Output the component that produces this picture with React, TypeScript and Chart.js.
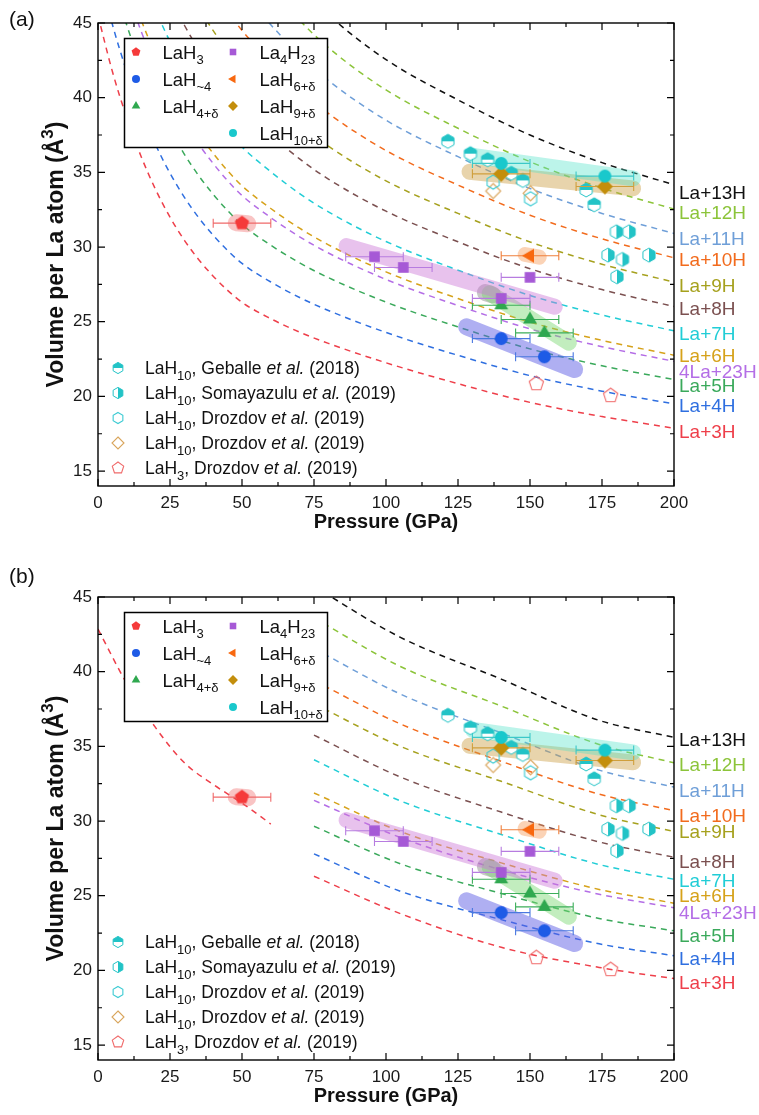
import React, { useEffect, useRef } from "react";
import { Chart, registerables } from "chart.js";

Chart.register(...registerables);

const FONT = '"Liberation Sans", Arial, Helvetica, sans-serif';

// ---------------- axes ----------------
const X_TICKS = [0, 25, 50, 75, 100, 125, 150, 175, 200];
const Y_TICKS = [15, 20, 25, 30, 35, 40, 45];

// ---------------- reference curves, panel (a) ----------------
const P_A = [0, 5, 10, 15, 20, 25, 30, 35, 40, 45, 50, 60, 70, 80, 100, 125, 150, 175, 200];
const A_13H = [null, null, null, null, null, null, null, null, null, null, null, null, 47.5, 45.55, 42.55, 39.85, 37.5, 35.65, 34.17];
const A_12H = [null, null, null, null, null, null, null, null, null, null, null, 47.34, 45.18, 43.35, 40.52, 37.95, 35.71, 33.95, 32.54];
const A_11H = [null, null, null, null, null, null, null, null, null, 48.46, 47.1, 44.88, 42.86, 41.15, 38.49, 36.05, 33.92, 32.25, 30.91];
const A_10H = [null, null, null, null, null, null, null, null, 47.23, 45.79, 44.5, 42.42, 40.54, 38.95, 36.46, 34.15, 32.13, 30.55, 29.28];
const A_9H = [null, null, null, null, null, null, 47.73, 46.01, 44.49, 43.12, 41.9, 39.96, 38.22, 36.75, 34.43, 32.25, 30.34, 28.85, 27.65];
const A_8H = [null, null, null, null, 48.85, 46.7, 44.85, 43.2, 41.75, 40.45, 39.3, 37.5, 35.9, 34.55, 32.4, 30.35, 28.55, 27.15, 26.02];
const A_7H = [null, null, null, 48.25, 45.85, 43.76, 41.97, 40.39, 39.01, 37.78, 36.7, 35.04, 33.58, 32.35, 30.37, 28.45, 26.76, 25.45, 24.39];
const A_6H = [null, null, 47.95, 45.2, 42.85, 40.82, 39.09, 37.58, 36.27, 35.11, 34.1, 32.58, 31.26, 30.15, 28.34, 26.55, 24.97, 23.75, 22.76];
const A_4LA23H = [null, null, 47.18, 44.44, 42.1, 40.09, 38.37, 36.88, 35.59, 34.44, 33.45, 31.97, 30.68, 29.6, 27.83, 26.08, 24.52, 23.33, 22.35];
const A_5H = [null, 48.05, 44.85, 42.15, 39.85, 37.88, 36.21, 34.77, 33.53, 32.44, 31.5, 30.12, 28.94, 27.95, 26.31, 24.65, 23.18, 22.05, 21.13];
const A_4H = [48.7, 44.9, 41.75, 39.1, 36.85, 34.94, 33.33, 31.96, 30.79, 29.77, 28.9, 27.66, 26.62, 25.75, 24.28, 22.75, 21.39, 20.35, 19.5];
const A_3H = [45.5, 41.75, 38.65, 36.05, 33.85, 32.0, 30.45, 29.15, 28.05, 27.1, 26.3, 25.2, 24.3, 23.55, 22.25, 20.85, 19.6, 18.65, 17.87];

// ---------------- reference curves, panel (b) ----------------
const P_B = [75, 105, 140, 174, 200];
const B_13H = [45.7, 42.3, 39.5, 36.74, 35.6];
const B_12H = [43.6, 40.35, 37.7, 35.13, 33.9];
const B_11H = [41.55, 38.5, 35.9, 33.41, 32.27];
const B_10H = [39.4, 36.5, 34.0, 31.8, 30.7];
const B_9H = [37.85, 35.0, 32.66, 30.42, 29.3];
const B_8H = [35.75, 32.95, 30.6, 28.6, 27.58];
const B_7H = [34.1, 31.35, 29.1, 27.09, 26.1];
const B_6H = [31.88, 29.3, 27.2, 25.42, 24.5];
const B_4LA23H = [31.38, 28.9, 26.73, 25.1, 24.2];
const B_5H = [29.65, 27.14, 25.15, 23.48, 22.65];
const B_4H = [27.8, 25.3, 23.4, 21.78, 20.98];
const B_3H = [26.3, 23.8, 21.55, 20.2, 19.45];
const P_B_LAH3 = [0, 10, 20, 30, 40, 50, 60];
const B_LAH3 = [42.85, 39.2, 36.25, 33.9, 32.45, 31.2, 29.8];

const CURVE_NAMES = ["La+13H", "La+12H", "La+11H", "La+10H", "La+9H", "La+8H", "La+7H", "La+6H", "4La+23H", "La+5H", "La+4H", "La+3H"];
const CURVE_COLORS = ["#111111", "#8cc43a", "#6f9fd8", "#f26b1d", "#a6a11e", "#7b5050", "#21cdd6", "#d6a21a", "#b46ee6", "#3aa95b", "#2f6fe0", "#ee3f4a"];
const CURVES_A = [A_13H, A_12H, A_11H, A_10H, A_9H, A_8H, A_7H, A_6H, A_4LA23H, A_5H, A_4H, A_3H];
const CURVES_B = [B_13H, B_12H, B_11H, B_10H, B_9H, B_8H, B_7H, B_6H, B_4LA23H, B_5H, B_4H, B_3H];
const LABEL_V_A = [33.7, 32.36, 30.62, 29.17, 27.45, 25.89, 24.26, 22.76, 21.71, 20.75, 19.41, 17.69];
const LABEL_V_B = [35.47, 33.79, 32.05, 30.38, 29.33, 27.32, 26.02, 25.02, 23.9, 22.34, 20.82, 19.21];

// ---------------- data points ----------------
const LAH3_P = [50];
const LAH3_V = [31.6];
const LAH3_ERR = [10];
const LAH4_P = [140, 155];
const LAH4_V = [23.87, 22.65];
const LAH4_ERR = [10, 10];
const LAH4D_P = [140, 150, 155];
const LAH4D_V = [26.1, 25.15, 24.25];
const LAH4D_ERR = [10, 10, 10];
const LA4H23_P = [96, 106, 140, 150];
const LA4H23_V = [29.35, 28.63, 26.56, 27.97];
const LA4H23_ERR = [10, 10, 10, 10];
const LAH6_P = [150];
const LAH6_V = [29.42];
const LAH6_ERR = [10];
const LAH9_P = [140, 176];
const LAH9_V = [34.9, 34.05];
const LAH9_ERR = [10, 10];
const LAH10_P = [140, 176];
const LAH10_V = [35.6, 34.75];
const LAH10_ERR = [10, 10];

const GEBALLE_P = [121.5, 129.3, 135.3, 143.5, 147.5, 169.5, 172.3];
const GEBALLE_V = [37.08, 36.25, 35.85, 34.94, 34.46, 33.82, 32.83];
const SOMA_P = [180, 184.4, 177.1, 182.1, 191.3, 180.2];
const SOMA_V = [31.02, 31.02, 29.46, 29.17, 29.46, 28.01];
const DROZ_HEX_P = [137.2, 150.2];
const DROZ_HEX_V = [34.35, 33.23];
const DROZ_DIA_P = [137.2, 150.2];
const DROZ_DIA_V = [33.75, 33.6];
const DROZ_LAH3_P = [152.2, 178];
const DROZ_LAH3_V = [20.85, 20.05];

// shaded guide bands (end points)
const BAND_TEAL = [[130.2, 36.1], [185.8, 34.6]];
const BAND_GOLD = [[129, 35.04], [185.8, 33.93]];
const BAND_PURPLE = [[86.3, 30.06], [158.6, 26.0]];
const BAND_GREEN = [[136, 26.9], [163.5, 23.6]];
const BAND_BLUE = [[128, 24.66], [165.5, 21.8]];
const BAND_GRAY = [[134.5, 26.95], [137, 26.8]];
const BLOB_RED = [[48, 31.62], [52, 31.56]];
const BLOB_ORANGE = [[148.3, 29.5], [153.2, 29.32]];

type Style = { shape: string; r: number; color: string; fill: string; lw?: number };

const ST_LAH3: Style = { shape: "pentagon", r: 7.5, color: "#f53a3a", fill: "full" };
const ST_LAH4: Style = { shape: "circle", r: 6.5, color: "#1e5be6", fill: "full" };
const ST_LAH4D: Style = { shape: "triangle", r: 8, color: "#2fa84f", fill: "full" };
const ST_LA4H23: Style = { shape: "square", r: 7.5, color: "#a659d6", fill: "full" };
const ST_LAH6: Style = { shape: "triangleLeft", r: 8, color: "#f8680f", fill: "full" };
const ST_LAH9: Style = { shape: "diamond", r: 8, color: "#c38e0c", fill: "full" };
const ST_LAH10: Style = { shape: "circle", r: 6.5, color: "#19c8cc", fill: "full" };
const ST_GEB: Style = { shape: "hexagon", r: 7, color: "#22c3c6", fill: "top", lw: 1 };
const ST_SOMA: Style = { shape: "hexagon", r: 7, color: "#22c3c6", fill: "right", lw: 1 };
const ST_DHEX: Style = { shape: "hexagon", r: 7, color: "#3ccbd3", fill: "none", lw: 1.1 };
const ST_DDIA: Style = { shape: "diamond", r: 7.5, color: "#d9a55c", fill: "none", lw: 1.1 };
const ST_DPEN: Style = { shape: "pentagon", r: 7.5, color: "#f06a6a", fill: "none", lw: 1.1 };

const TOP_LEGEND: [Style, string][] = [
  [ST_LAH3, "LaH_{3}"],
  [ST_LAH4, "LaH_{~4}"],
  [ST_LAH4D, "LaH_{4+δ}"],
  [ST_LA4H23, "La_{4}H_{23}"],
  [ST_LAH6, "LaH_{6+δ}"],
  [ST_LAH9, "LaH_{9+δ}"],
  [ST_LAH10, "LaH_{10+δ}"],
];
const BOTTOM_LEGEND: [Style, string][] = [
  [ST_GEB, "LaH_{10}, Geballe *et al.* (2018)"],
  [ST_SOMA, "LaH_{10}, Somayazulu *et al.* (2019)"],
  [ST_DHEX, "LaH_{10}, Drozdov *et al.* (2019)"],
  [ST_DDIA, "LaH_{10}, Drozdov *et al.* (2019)"],
  [ST_DPEN, "LaH_{3}, Drozdov *et al.* (2019)"],
];

function shapePath(ctx: CanvasRenderingContext2D, shape: string, x: number, y: number, r: number) {
  ctx.beginPath();
  if (shape === "circle") {
    ctx.arc(x, y, r, 0, Math.PI * 2);
    return;
  }
  let n = 4;
  let rot = 0;
  if (shape === "triangle") { n = 3; rot = -Math.PI / 2; }
  else if (shape === "triangleLeft") { n = 3; rot = Math.PI; }
  else if (shape === "square") { n = 4; rot = Math.PI / 4; }
  else if (shape === "diamond") { n = 4; rot = -Math.PI / 2; }
  else if (shape === "pentagon") { n = 5; rot = -Math.PI / 2; }
  else if (shape === "hexagon") { n = 6; rot = -Math.PI / 2; }
  for (let i = 0; i < n; i++) {
    const a = rot + (i * 2 * Math.PI) / n;
    const px = x + r * Math.cos(a);
    const py = y + r * Math.sin(a);
    if (i === 0) ctx.moveTo(px, py);
    else ctx.lineTo(px, py);
  }
  ctx.closePath();
}

function drawShape(ctx: CanvasRenderingContext2D, st: Style, x: number, y: number, r: number) {
  ctx.save();
  shapePath(ctx, st.shape, x, y, r);
  if (st.fill === "full") {
    ctx.fillStyle = st.color;
    ctx.fill();
  } else if (st.fill === "top" || st.fill === "right") {
    ctx.fillStyle = "#ffffff";
    ctx.fill();
    ctx.save();
    ctx.clip();
    ctx.fillStyle = st.color;
    if (st.fill === "top") ctx.fillRect(x - r - 2, y - r - 2, 2 * r + 4, r + 2);
    else ctx.fillRect(x, y - r - 2, r + 2, 2 * r + 4);
    ctx.restore();
    shapePath(ctx, st.shape, x, y, r);
  }
  if (st.fill !== "full") {
    ctx.strokeStyle = st.color;
    ctx.lineWidth = st.lw ?? 1.1;
    ctx.stroke();
  }
  ctx.restore();
}

function markerCanvas(st: Style): HTMLCanvasElement {
  const s = Math.ceil(st.r * 2 + 4);
  const c = document.createElement("canvas");
  c.width = s;
  c.height = s;
  const ctx = c.getContext("2d")!;
  drawShape(ctx, st, s / 2, s / 2, st.r);
  return c;
}

type Seg = { t: string; mode: string; it: boolean };
function parseRich(s: string): Seg[] {
  const segs: Seg[] = [];
  let buf = "";
  let it = false;
  let i = 0;
  const flush = () => {
    if (buf) segs.push({ t: buf, mode: "n", it });
    buf = "";
  };
  while (i < s.length) {
    const c = s[i];
    if ((c === "_" || c === "^") && s[i + 1] === "{") {
      flush();
      const j = s.indexOf("}", i);
      segs.push({ t: s.slice(i + 2, j), mode: c === "_" ? "sub" : "sup", it });
      i = j + 1;
      continue;
    }
    if (c === "*") {
      flush();
      it = !it;
      i++;
      continue;
    }
    buf += c;
    i++;
  }
  flush();
  return segs;
}

function drawRich(ctx: CanvasRenderingContext2D, s: string, x: number, y: number, size: number, color: string, align = "left", bold = false) {
  const segs = parseRich(s);
  const fontOf = (g: Seg) =>
    `${g.it ? "italic " : ""}${bold ? "bold " : ""}${g.mode === "n" ? size : Math.round(size * 0.72)}px ${FONT}`;
  let w = 0;
  for (const g of segs) {
    ctx.font = fontOf(g);
    w += ctx.measureText(g.t).width;
  }
  let cx = align === "center" ? x - w / 2 : align === "right" ? x - w : x;
  ctx.fillStyle = color;
  ctx.textAlign = "left";
  ctx.textBaseline = "alphabetic";
  for (const g of segs) {
    ctx.font = fontOf(g);
    const dy = g.mode === "sub" ? size * 0.3 : g.mode === "sup" ? -size * 0.42 : 0;
    ctx.fillText(g.t, cx, y + dy);
    cx += ctx.measureText(g.t).width;
  }
  return w;
}

function decorPlugin(panel: string) {
  return {
    id: "decor_" + panel,
    beforeDatasetDraw(chart: any, args: any) {
      const ds = chart.data.datasets[args.index];
      if (!ds.xErr) return;
      const ctx: CanvasRenderingContext2D = chart.ctx;
      const xs = chart.scales.x;
      ctx.save();
      ctx.strokeStyle = ds.errColor;
      ctx.lineWidth = 1.1;
      ctx.beginPath();
      args.meta.data.forEach((pt: any, i: number) => {
        const d = ds.data[i];
        const x1 = xs.getPixelForValue(d.x - ds.xErr[i]);
        const x2 = xs.getPixelForValue(d.x + ds.xErr[i]);
        const y = pt.y;
        ctx.moveTo(x1, y);
        ctx.lineTo(x2, y);
        ctx.moveTo(x1, y - 4.5);
        ctx.lineTo(x1, y + 4.5);
        ctx.moveTo(x2, y - 4.5);
        ctx.lineTo(x2, y + 4.5);
      });
      ctx.stroke();
      ctx.restore();
    },
    afterDatasetsDraw(chart: any) {
      const ctx: CanvasRenderingContext2D = chart.ctx;
      const { left, right, top, bottom } = chart.chartArea;
      const xs = chart.scales.x;
      const ys = chart.scales.y;
      ctx.save();

      // top legend (boxed)
      const bx = left + 26.5;
      const by = top + 15.5;
      ctx.fillStyle = "#ffffff";
      ctx.fillRect(bx, by, 203, 109);
      ctx.strokeStyle = "#000";
      ctx.lineWidth = 1.5;
      ctx.strokeRect(bx, by, 203, 109);
      TOP_LEGEND.forEach(([st, label], i) => {
        const col = i < 3 ? 0 : 1;
        const row = i < 3 ? i : i - 3;
        const cy = by + 13.5 + 27 * row;
        const mx = bx + (col === 0 ? 11.5 : 108.5);
        const tx = bx + (col === 0 ? 38 : 135);
        drawShape(ctx, st, mx, cy, st.r * 0.62);
        drawRich(ctx, label, tx, cy + 6.5, 18.5, "#111");
      });

      // bottom legend (no box)
      BOTTOM_LEGEND.forEach(([st, label], i) => {
        const cy = bottom - 118 + 25 * i;
        drawShape(ctx, st, left + 20, cy, st.r * 0.8);
        drawRich(ctx, label, left + 47, cy + 6.3, 17.5, "#111");
      });

      // frame and ticks
      ctx.strokeStyle = "#000";
      ctx.lineWidth = 1.4;
      ctx.strokeRect(left, top, right - left, bottom - top);
      ctx.beginPath();
      ctx.lineWidth = 1.2;
      X_TICKS.forEach((v, i) => {
        const x = xs.getPixelForValue(v);
        ctx.moveTo(x, bottom); ctx.lineTo(x, bottom - 7);
        ctx.moveTo(x, top); ctx.lineTo(x, top + 7);
        if (i < X_TICKS.length - 1) {
          const xm = xs.getPixelForValue((v + X_TICKS[i + 1]) / 2);
          ctx.moveTo(xm, bottom); ctx.lineTo(xm, bottom - 4);
          ctx.moveTo(xm, top); ctx.lineTo(xm, top + 4);
        }
      });
      Y_TICKS.forEach((v, i) => {
        const y = ys.getPixelForValue(v);
        ctx.moveTo(left, y); ctx.lineTo(left + 7, y);
        ctx.moveTo(right, y); ctx.lineTo(right - 7, y);
        if (i < Y_TICKS.length - 1) {
          const ym = ys.getPixelForValue((v + Y_TICKS[i + 1]) / 2);
          ctx.moveTo(left, ym); ctx.lineTo(left + 4, ym);
          ctx.moveTo(right, ym); ctx.lineTo(right - 4, ym);
        }
      });
      ctx.stroke();

      // tick labels
      ctx.fillStyle = "#1a1a1a";
      ctx.font = `17px ${FONT}`;
      ctx.textAlign = "center";
      ctx.textBaseline = "middle";
      X_TICKS.forEach((v) => ctx.fillText(String(v), xs.getPixelForValue(v), bottom + 17));
      ctx.textAlign = "right";
      Y_TICKS.forEach((v) => ctx.fillText(String(v), left - 6, ys.getPixelForValue(v)));

      // axis titles
      drawRich(ctx, "Pressure (GPa)", (left + right) / 2, bottom + 42, 20, "#111", "center", true);
      ctx.save();
      ctx.translate(left - 43, (top + bottom) / 2);
      ctx.rotate(-Math.PI / 2);
      drawRich(ctx, "Volume per La atom (Å^{3})", 0, 8, 23, "#111", "center", true);
      ctx.restore();

      // curve labels
      const labV = panel === "a" ? LABEL_V_A : LABEL_V_B;
      CURVE_NAMES.forEach((name, k) => {
        drawRich(ctx, name, right + 5, ys.getPixelForValue(labV[k]) + 6.8, 19, CURVE_COLORS[k]);
      });

      // panel letter
      ctx.fillStyle = "#111";
      ctx.font = `21px ${FONT}`;
      ctx.textAlign = "left";
      ctx.textBaseline = "alphabetic";
      ctx.fillText(panel === "a" ? "(a)" : "(b)", 9, 26);
      ctx.restore();
    },
  };
}

function pts(P: number[], V: (number | null)[]) {
  return P.map((p, i) => ({ x: p, y: V[i] })).filter((d) => d.y !== null);
}

function buildConfig(panel: string): any {
  const isA = panel === "a";
  const datasets: any[] = [];
  const markerSeries: [Style, number[], number[], number[] | null, string][] = [
    [ST_LAH10, LAH10_P, LAH10_V, LAH10_ERR, "#3cc8c8"],
    [ST_LAH9, LAH9_P, LAH9_V, LAH9_ERR, "#cf9f3c"],
    [ST_LAH6, LAH6_P, LAH6_V, LAH6_ERR, "#f0803c"],
    [ST_LA4H23, LA4H23_P, LA4H23_V, LA4H23_ERR, "#b77ce0"],
    [ST_LAH4D, LAH4D_P, LAH4D_V, LAH4D_ERR, "#3cae5a"],
    [ST_LAH4, LAH4_P, LAH4_V, LAH4_ERR, "#4a78e0"],
    [ST_LAH3, LAH3_P, LAH3_V, LAH3_ERR, "#f06a6a"],
    [ST_GEB, GEBALLE_P, GEBALLE_V, null, ""],
    [ST_SOMA, SOMA_P, SOMA_V, null, ""],
    [ST_DHEX, DROZ_HEX_P, DROZ_HEX_V, null, ""],
    [ST_DDIA, DROZ_DIA_P, DROZ_DIA_V, null, ""],
    [ST_DPEN, DROZ_LAH3_P, DROZ_LAH3_V, null, ""],
  ];
  markerSeries.forEach(([st, P, V, err, ec]) => {
    datasets.push({
      type: "scatter",
      data: pts(P, V),
      pointStyle: markerCanvas(st),
      pointRadius: st.r,
      pointHoverRadius: st.r,
      xErr: err,
      errColor: ec,
      showLine: false,
      order: 0,
    });
  });
  const bands: [number[][], string, number][] = [
    [BAND_TEAL, "rgba(80,225,200,0.38)", 16],
    [BAND_GOLD, "rgba(205,160,70,0.45)", 16],
    [BAND_PURPLE, "rgba(205,120,215,0.45)", 16],
    [BAND_GREEN, "rgba(120,215,110,0.45)", 16],
    [BAND_GRAY, "rgba(130,130,130,0.45)", 17],
    [BAND_BLUE, "rgba(95,95,230,0.5)", 17],
    [BLOB_RED, "rgba(240,100,100,0.38)", 17],
    [BLOB_ORANGE, "rgba(245,150,80,0.42)", 15],
  ];
  bands.forEach(([b, color, w]) => {
    datasets.push({
      type: "line",
      data: b.map((p) => ({ x: p[0], y: p[1] })),
      borderColor: color,
      borderWidth: w,
      borderCapStyle: "round",
      pointRadius: 0,
      fill: false,
      tension: 0,
      order: 5,
    });
  });
  const curves = isA ? CURVES_A : CURVES_B;
  const P = isA ? P_A : P_B;
  curves.forEach((c, k) => {
    datasets.push({
      type: "line",
      data: pts(P, c),
      borderColor: CURVE_COLORS[k],
      borderWidth: 1.5,
      borderDash: [6, 5],
      pointRadius: 0,
      cubicInterpolationMode: "monotone",
      fill: false,
      order: 10,
    });
  });
  if (!isA) {
    datasets.push({
      type: "line",
      data: pts(P_B_LAH3, B_LAH3),
      borderColor: CURVE_COLORS[11],
      borderWidth: 1.5,
      borderDash: [6, 5],
      pointRadius: 0,
      cubicInterpolationMode: "monotone",
      fill: false,
      order: 10,
    });
  }
  return {
    type: "scatter",
    data: { datasets },
    options: {
      responsive: false,
      maintainAspectRatio: false,
      animation: false,
      devicePixelRatio: 1,
      events: [],
      layout: {
        padding: isA
          ? { left: 98, right: 85, top: 23, bottom: 71 }
          : { left: 98, right: 85, top: 40, bottom: 55 },
      },
      scales: {
        x: { type: "linear", min: 0, max: 200, display: false },
        y: { type: "linear", min: 14, max: 45, display: false },
      },
      plugins: { legend: { display: false }, tooltip: { enabled: false } },
    },
    plugins: [decorPlugin(panel)],
  };
}

function Panel({ panel, height }: { panel: string; height: number }) {
  const ref = useRef<HTMLCanvasElement>(null);
  useEffect(() => {
    const chart = new Chart(ref.current as HTMLCanvasElement, buildConfig(panel));
    return () => chart.destroy();
  }, [panel]);
  return (
    <canvas
      ref={ref}
      width={759}
      height={height}
      style={{ display: "block", width: 759, height }}
    />
  );
}

export default function App() {
  useEffect(() => {
    document.body.style.margin = "0";
  }, []);
  return (
    <div style={{ width: 759, height: 1115, background: "#fff", overflow: "hidden" }}>
      <Panel panel="a" height={557} />
      <Panel panel="b" height={558} />
    </div>
  );
}
